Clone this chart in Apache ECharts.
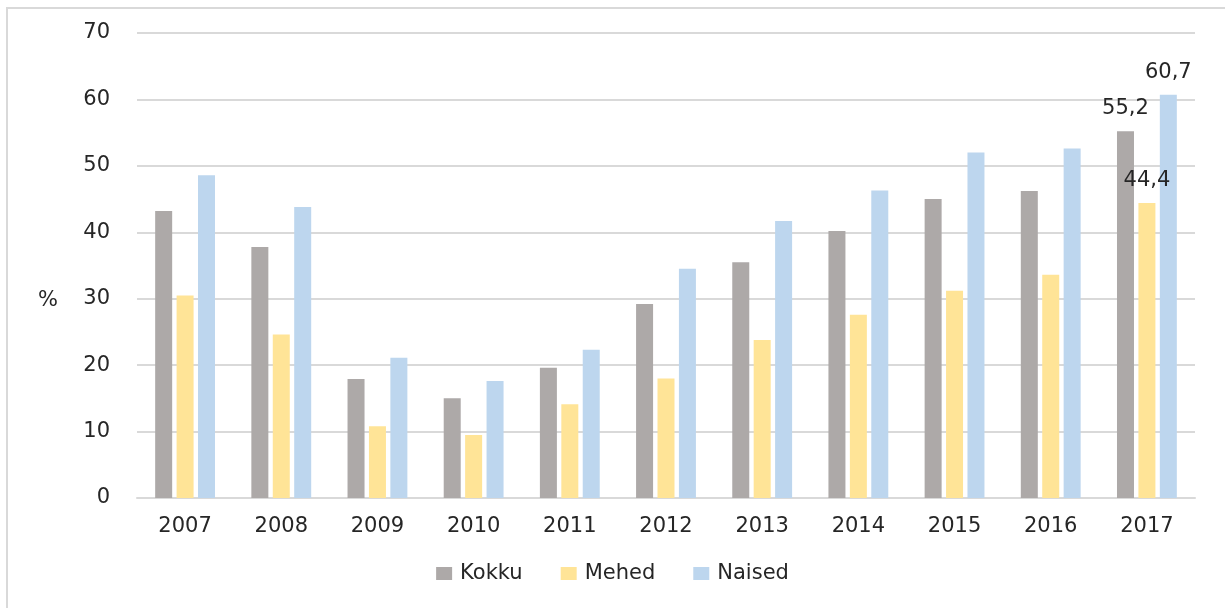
<!DOCTYPE html>
<html>
<head>
<meta charset="utf-8">
<script src="https://cdn.jsdelivr.net/npm/echarts@6/dist/echarts.min.js"></script>
<style>
  html, body { margin: 0; padding: 0; background: #fff; }
  #frame {
    position: absolute; left: 6px; top: 7px; width: 1230px; height: 620px;
    border-left: 2px solid #d9d9d9; border-top: 2px solid #d9d9d9;
  }
  #chart { position: absolute; left: 0; top: 0; width: 1225px; height: 608px; }
</style>
</head>
<body>
<div id="frame"></div>
<div id="chart"></div>
<script>
var years = ["2007", "2008", "2009", "2010", "2011", "2012", "2013", "2014", "2015", "2016", "2017"];
var kokku = [43.2, 37.8, 17.9, 15.0, 19.6, 29.2, 35.5, 40.2, 45.0, 46.2, 55.2];
var mehed = [30.5, 24.6, 10.8, 9.5, 14.1, 18.0, 23.8, 27.6, 31.2, 33.6, 44.4];
var naised = [48.6, 43.8, 21.1, 17.6, 22.3, 34.5, 41.7, 46.3, 52.0, 52.6, 60.7];
var labelledYear = "2017";

var font = "DejaVu Sans";
var textColor = "#262626";
var fs = 21;

// only the last year gets a value label
function withLabels(values) {
  return values.map(function (v, i) {
    if (years[i] !== labelledYear) return v;
    return {
      value: v,
      label: {
        show: true,
        position: "top",
        distance: 12,
        color: textColor,
        fontFamily: font,
        fontSize: fs,
        formatter: function (p) { return String(p.value).replace(".", ","); }
      }
    };
  });
}

var chart = echarts.init(document.getElementById("chart"));
var option = {
  animation: false,
  color: ["#ada9a8", "#ffe497", "#bdd6ee"],
  grid: { left: 137, right: 30, top: 33, bottom: 110, containLabel: false },
  // axis unit, sits level with the 30 tick like in the original
  graphic: [
    {
      type: "text",
      left: 38,
      top: 290,
      style: { text: "%", fill: textColor, font: fs + "px '" + font + "'" }
    }
  ],
  legend: {
    bottom: 19,
    left: "center",
    itemWidth: 16,
    itemHeight: 13,
    itemGap: 38,
    icon: "rect",
    textStyle: { color: textColor, fontFamily: font, fontSize: fs, padding: [0, 0, 0, 3] },
    data: ["Kokku", "Mehed", "Naised"]
  },
  xAxis: {
    type: "category",
    data: years,
    axisTick: { show: false },
    axisLine: { lineStyle: { color: "#d9d9d9", width: 2 } },
    axisLabel: { color: textColor, fontFamily: font, fontSize: fs, margin: 18 }
  },
  yAxis: {
    type: "value",
    min: 0,
    max: 70,
    interval: 10,
    axisLine: { show: false },
    axisTick: { show: false },
    splitLine: { lineStyle: { color: "#d9d9d9", width: 2 } },
    axisLabel: { color: textColor, fontFamily: font, fontSize: fs, margin: 27 }
  },
  series: [
    { name: "Kokku", type: "bar", barWidth: 17, barGap: "26%", data: withLabels(kokku) },
    { name: "Mehed", type: "bar", barWidth: 17, barGap: "26%", data: withLabels(mehed) },
    { name: "Naised", type: "bar", barWidth: 17, barGap: "26%", data: withLabels(naised) }
  ]
};
chart.setOption(option);
</script>
</body>
</html>
